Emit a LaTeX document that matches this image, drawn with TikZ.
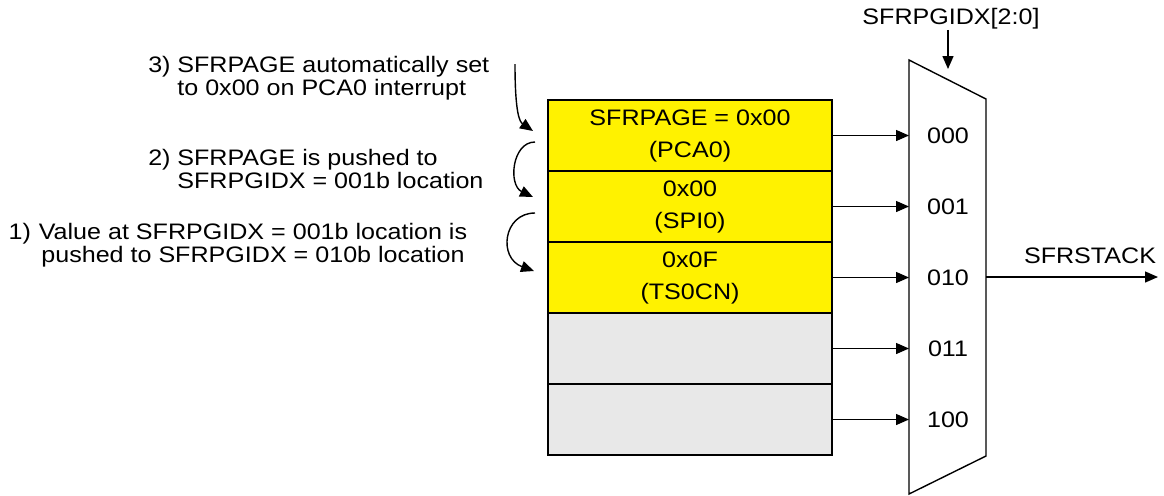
\documentclass[tikz,border=0pt]{standalone}
\usepackage{fontspec}
\setmainfont{Liberation Sans}[FakeStretch=1.12]
\usetikzlibrary{positioning,arrows.meta}

\begin{document}
\begin{tikzpicture}[x=0.5pt,y=-0.5pt,
row/.style={
rectangle,draw,line width=0.9pt,outer sep=0pt,
align=center,
minimum width=142pt,
minimum height=35.5pt,
font=\fontsize{11.2}{16}\selectfont
},
used/.style={row,fill=yellow},
free/.style={row,fill=black!9},
note/.style={font=\fontsize{11.2}{11.5}\selectfont,inner sep=0pt},
arrow/.style={-{Triangle[length=6.5pt,width=5.5pt]},line width=0.7pt}
]
\useasboundingbox (0,0) rectangle (1164,495);

% STACK
\node[used] (r0) at (690,135.5) {SFRPAGE = 0x00\\(PCA0)};
\node[used,below=0pt of r0] (r1) {0x00\\(SPI0)};
\node[used,below=0pt of r1] (r2) {0x0F\\(TS0CN)};
\node[free,below=0pt of r2] (r3) {};
\node[free,below=0pt of r3] (r4) {};

% MUX
\coordinate (mtl) at (909,60);
\coordinate (mtr) at (986,99);
\coordinate (mbr) at (986,456);
\coordinate (mbl) at (909,494);
\draw[line width=0.7pt] (mtl) -- (mtr) -- (mbr) -- (mbl) -- cycle;

\foreach \i/\code in {0/000,1/001,2/010,3/011,4/100}{
  \draw[arrow] (r\i.east) -- (r\i.east -| mtl);
  \path (r\i.east -| mtl) ++(39,0) node[note] (s\i) {\code};
}

% SELECT
\node[note] (idx) at (951,19) {SFRPGIDX[2:0]};
\coordinate (idxend) at (948,69);
\draw[arrow] (idx.south -| idxend) -- (idxend);

% OUTPUT
\coordinate (out) at (1158,277);
\draw[arrow] (mtr |- out) -- (out);
\node[note] (stack) at (1090,256) {SFRSTACK};

% NOTES
\node[note,align=left,anchor=west] (n3) at (177,78) {SFRPAGE automatically set\\to 0x00 on PCA0 interrupt};
\node[note,anchor=north east] (k3) at ([xshift=-3pt]n3.north west) {3)};

\node[note,align=left,anchor=west] (n2) at (177,169) {SFRPAGE is pushed to\\SFRPGIDX = 001b location};
\node[note,anchor=north east] (k2) at ([xshift=-3pt]n2.north west) {2)};

\node[note,align=center] (n1) at (253,245) {Value at SFRPGIDX = 001b location is\\pushed to SFRPGIDX = 010b location};
\node[note,anchor=north east] (k1) at ([xshift=-3.5pt]n1.north west) {1)};

% MOVES
\coordinate (a3s) at (515,64);
\coordinate (a3e) at (533,131);
\coordinate (a2s) at (535,142);
\coordinate (a2e) at (533,197);
\coordinate (a1s) at (535,213);
\coordinate (a1e) at (534,271);
\draw[arrow] (a3s) .. controls (515,115) and (520,122) .. (a3e);
\draw[arrow] (a2s) .. controls (512,142) and (508,185) .. (a2e);
\draw[arrow] (a1s) .. controls (503,213) and (498,258) .. (a1e);

\end{tikzpicture}
\end{document}
